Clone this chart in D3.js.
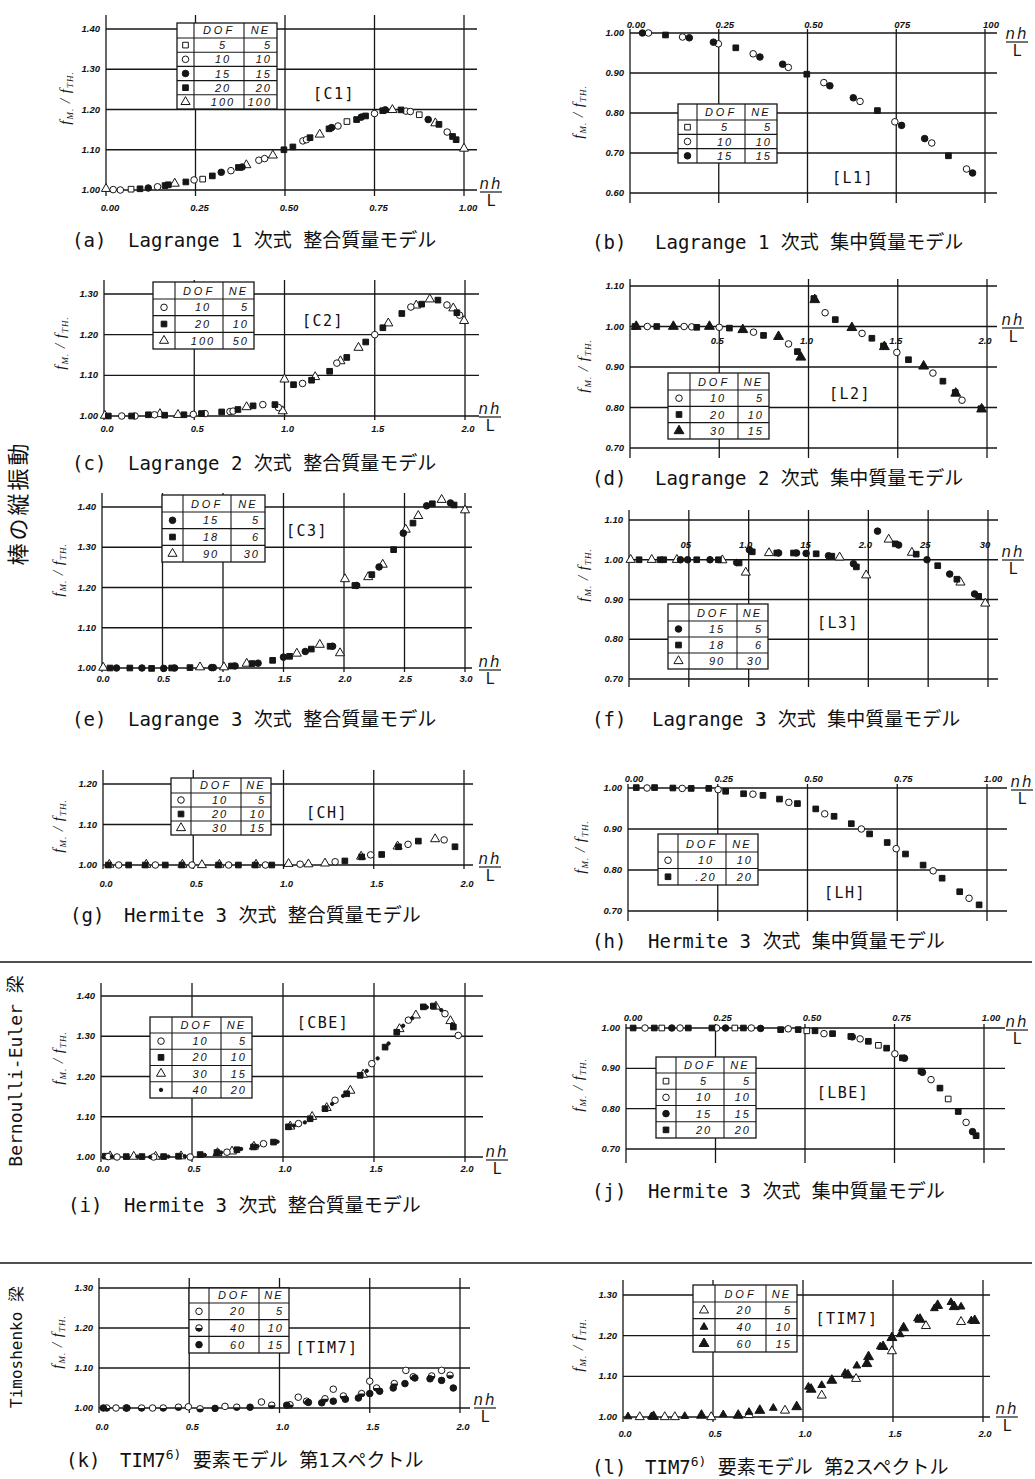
<!DOCTYPE html>
<html>
<head>
<meta charset="utf-8">
<script src="https://cdn.jsdelivr.net/npm/d3@7"></script>
<style>
body { margin: 0; background: #fff; }
svg { display: block; }
.tk { font-family: "Liberation Sans", Arial, sans-serif; font-style: italic; font-weight: bold; font-size: 9.5px; fill: #111; }
.lg { font-family: "Liberation Sans", Arial, sans-serif; font-style: italic; font-size: 11px; fill: #111; }
.cap { font-family: "DejaVu Sans Mono", "Noto Sans CJK JP", monospace; font-size: 19px; fill: #111; white-space: pre; }
.tag { font-family: "DejaVu Sans Mono", monospace; font-size: 15px; fill: #111; }
.side { font-family: "DejaVu Sans Mono", "Noto Sans CJK JP", monospace; fill: #111; white-space: pre; }
</style>
</head>
<body>
<svg id="fig" width="1035" height="1479"></svg>
<script>
// ---- (a) Lagrange 1 consistent mass [C1]
const a_xvals = [0, 0.25, 0.5, 0.75, 1];
const a_xlabels = ['0.00', '0.25', '0.50', '0.75', '1.00'];
const a_yvals = [1.0, 1.1, 1.2, 1.3, 1.4];
const a_legend = [['sq', '5', '5'], ['ci', '10', '10'], ['dot', '15', '15'], ['sqf', '20', '20'], ['tri', '100', '100']];
const a_sq = [[0.07,1.002],[0.27,1.027],[0.673,1.170],[0.875,1.187]];
const a_ci = [[0.02,1.001],[0.04,1.000],[0.144,1.008],[0.246,1.025],[0.349,1.048],[0.427,1.074],[0.443,1.078],[0.55,1.122],[0.56,1.125],[0.648,1.159],[0.75,1.190],[0.838,1.196],[0.85,1.195],[0.953,1.144]];
const a_dot = [[0.118,1.005],[0.322,1.044],[0.38,1.057],[0.63,1.155],[0.713,1.181],[0.78,1.199],[0.90,1.175]];
const a_sqf = [[0.095,1.003],[0.165,1.011],[0.174,1.013],[0.223,1.020],[0.297,1.035],[0.37,1.056],[0.497,1.100],[0.522,1.107],[0.57,1.130],[0.623,1.152],[0.70,1.175],[0.725,1.184],[0.773,1.197],[0.824,1.199],[0.93,1.163],[0.968,1.133],[0.978,1.125]];
const a_tri = [[0.0,1.003],[0.192,1.016],[0.392,1.062],[0.466,1.086],[0.597,1.138],[0.80,1.199],[0.92,1.166],[1.0,1.103]];

// ---- (b) Lagrange 1 lumped mass [L1]
const b_xvals = [0, 0.25, 0.5, 0.75, 1];
const b_xlabels = ['0.00', '0.25', '0.50', '075', '100'];
const b_yvals = [0.6, 0.7, 0.8, 0.9, 1.0];
const b_legend = [['sq', '5', '5'], ['ci', '10', '10'], ['dot', '15', '15']];
const b_sqf = [[0.10,0.995],[0.298,0.963],[0.498,0.897],[0.697,0.806],[0.897,0.693]];
const b_ci = [[0.052,1.000],[0.148,0.990],[0.249,0.973],[0.347,0.948],[0.446,0.914],[0.546,0.876],[0.648,0.829],[0.746,0.778],[0.85,0.725],[0.948,0.660]];
const b_dot = [[0.035,1.000],[0.167,0.988],[0.235,0.977],[0.366,0.940],[0.43,0.922],[0.563,0.868],[0.629,0.838],[0.765,0.769],[0.83,0.736],[0.965,0.650]];

// ---- (c) Lagrange 2 consistent mass [C2]
const c_xvals = [0, 0.5, 1.0, 1.5, 2.0];
const c_xlabels = ['0.0', '0.5', '1.0', '1.5', '2.0'];
const c_yvals = [1.0, 1.1, 1.2, 1.3];
const c_legend = [['ci', '10', '5'], ['sqf', '20', '10'], ['tri', '100', '50']];
const c_ci = [[0.098,1.000],[0.172,1.000],[0.28,1.003],[0.495,1.004],[0.56,1.006],[0.698,1.011],[0.715,1.012],[0.88,1.028],[0.966,1.021],[1.10,1.080],[1.29,1.130],[1.50,1.200],[1.70,1.268],[1.90,1.273],[1.97,1.248]];
const c_sqf = [[0.024,1.000],[0.153,1.000],[0.246,1.003],[0.336,1.002],[0.443,1.003],[0.54,1.006],[0.652,1.010],[0.742,1.016],[0.826,1.025],[0.947,1.028],[1.05,1.077],[1.15,1.088],[1.25,1.110],[1.345,1.144],[1.45,1.182],[1.545,1.217],[1.65,1.252],[1.76,1.275],[1.85,1.285],[1.955,1.254]];
const c_tri = [[0.005,1.001],[0.31,1.005],[0.41,1.003],[0.79,1.022],[0.99,1.012],[1.0,1.090],[1.17,1.096],[1.31,1.135],[1.41,1.168],[1.575,1.228],[1.73,1.272],[1.805,1.287],[1.935,1.265],[1.995,1.234]];

// ---- (d) Lagrange 2 lumped mass [L2]
const d_xvals = [0.5, 1.0, 1.5, 2.0];
const d_xlabels = ['0.5', '1.0', '1.5', '2.0'];
const d_yvals = [0.7, 0.8, 0.9, 1.0, 1.1];
const d_legend = [['ci', '10', '5'], ['sqf', '20', '10'], ['trif', '30', '15']];
const d_ci = [[0.097,1.000],[0.303,1.000],[0.346,0.999],[0.50,0.998],[0.692,0.986],[0.888,0.957],[1.093,1.034],[1.30,0.983],[1.495,0.936],[1.697,0.885],[1.86,0.818]];
const d_sqf = [[0.028,1.000],[0.15,1.000],[0.374,0.998],[0.557,0.996],[0.748,0.978],[0.938,0.938],[1.03,1.069],[1.15,1.017],[1.355,0.971],[1.42,0.952],[1.56,0.918],[1.753,0.865],[1.822,0.837],[1.966,0.797]];
const d_trif = [[0.035,1.000],[0.243,1.000],[0.445,1.000],[0.632,0.992],[0.832,0.975],[0.957,0.924],[1.035,1.066],[1.243,0.997],[1.425,0.950],[1.645,0.902],[1.825,0.835],[1.97,0.796]];

// ---- (e) Lagrange 3 consistent mass [C3]
const e_xvals = [0, 0.5, 1.0, 1.5, 2.0, 2.5, 3.0];
const e_xlabels = ['0.0', '0.5', '1.0', '1.5', '2.0', '2.5', '3.0'];
const e_yvals = [1.0, 1.1, 1.2, 1.3, 1.4];
const e_legend = [['dot', '15', '5'], ['sqf', '18', '6'], ['tri', '90', '30']];
const e_dot = [[0.12,1.000],[0.33,1.000],[0.51,0.999],[0.60,1.000],[0.906,1.001],[0.92,1.001],[1.10,1.005],[1.29,1.012],[1.50,1.027],[1.68,1.041],[1.906,1.054],[2.105,1.205],[2.29,1.251],[2.49,1.335],[2.683,1.403],[2.88,1.410]];
const e_sqf = [[0.066,1.000],[0.23,1.000],[0.41,0.999],[0.576,1.000],[0.727,1.001],[1.07,1.005],[1.24,1.011],[1.41,1.019],[1.55,1.029],[1.73,1.047],[1.885,1.054],[2.09,1.205],[2.23,1.232],[2.41,1.294],[2.57,1.360],[2.73,1.408],[2.91,1.405]];
const e_tri = [[0.01,1.001],[0.81,1.002],[1.008,1.002],[1.196,1.011],[1.61,1.036],[1.80,1.058],[1.967,1.037],[2.008,1.221],[2.20,1.226],[2.32,1.257],[2.51,1.344],[2.614,1.378],[2.807,1.418],[3.0,1.392]];

// ---- (f) Lagrange 3 lumped mass [L3]
const f_xvals = [0.5, 1.0, 1.5, 2.0, 2.5, 3.0];
const f_xlabels = ['05', '1.0', '15', '2.0', '25', '30'];
const f_yvals = [0.7, 0.8, 0.9, 1.0, 1.1];
const f_legend = [['dot', '15', '5'], ['sqf', '18', '6'], ['tri', '90', '30']];
const f_dot = [[0.43,1.000],[0.49,1.000],[0.677,1.000],[0.90,0.993],[1.006,1.025],[1.25,1.017],[1.40,1.017],[1.48,1.016],[1.667,1.010],[1.876,0.990],[2.077,1.072],[2.253,1.037],[2.49,1.000],[2.68,0.964],[2.888,0.914]];
const f_sqf = [[0.084,1.000],[0.26,1.000],[0.29,1.000],[0.566,1.000],[0.747,1.000],[0.92,0.992],[1.03,1.020],[1.235,1.017],[1.375,1.017],[1.564,1.015],[1.695,1.009],[1.90,0.982],[2.225,1.040],[2.40,1.014],[2.58,0.985],[2.74,0.951],[2.922,0.908]];
const f_tri = [[0.014,1.000],[0.19,1.000],[0.40,1.000],[0.78,0.999],[0.976,0.968],[1.17,1.017],[1.76,1.006],[1.982,0.961],[2.17,1.051],[2.364,1.018],[2.77,0.943],[2.977,0.890]];

// ---- (g) Hermite 3 consistent mass [CH]
const g_xvals = [0, 0.5, 1.0, 1.5, 2.0];
const g_xlabels = ['0.0', '0.5', '1.0', '1.5', '2.0'];
const g_yvals = [1.0, 1.1, 1.2];
const g_legend = [['ci', '10', '5'], ['sqf', '20', '10'], ['tri', '30', '15']];
const g_ci = [[0.087,1.000],[0.29,1.000],[0.493,1.000],[0.696,1.000],[0.90,1.000],[1.092,1.002],[1.286,1.008],[1.483,1.025],[1.69,1.051],[1.89,1.062]];
const g_sqf = [[0.03,1.000],[0.142,1.000],[0.234,1.000],[0.345,1.000],[0.437,1.000],[0.64,1.000],[0.75,1.000],[0.843,1.000],[0.935,1.000],[1.34,1.010],[1.433,1.020],[1.544,1.026],[1.637,1.045],[1.747,1.059],[1.95,1.045]];
const g_tri = [[0.035,1.001],[0.24,1.001],[0.44,1.001],[0.548,1.000],[0.645,1.001],[0.848,1.001],[1.028,1.003],[1.138,1.002],[1.23,1.004],[1.43,1.021],[1.632,1.046],[1.84,1.064]];

// ---- (h) Hermite 3 lumped mass [LH]
const h_xvals = [0, 0.25, 0.5, 0.75, 1];
const h_xlabels = ['0.00', '0.25', '0.50', '0.75', '1.00'];
const h_yvals = [0.7, 0.8, 0.9, 1.0];
const h_legend = [['ci', '10', '10'], ['sqf', '.20', '20']];
const h_ci = [[0.053,1.000],[0.151,0.999],[0.251,0.996],[0.348,0.985],[0.448,0.965],[0.548,0.937],[0.65,0.900],[0.747,0.852],[0.85,0.798],[0.95,0.731]];
const h_sqf = [[0.023,1.001],[0.074,1.001],[0.125,1.000],[0.176,0.999],[0.225,0.999],[0.272,0.992],[0.322,0.986],[0.376,0.982],[0.422,0.973],[0.472,0.962],[0.523,0.949],[0.574,0.931],[0.622,0.913],[0.673,0.888],[0.722,0.867],[0.773,0.839],[0.822,0.812],[0.875,0.780],[0.924,0.747],[0.978,0.715]];

// ---- (i) Hermite 3 consistent mass, Bernoulli-Euler [CBE]
const i_xvals = [0, 0.5, 1.0, 1.5, 2.0];
const i_xlabels = ['0.0', '0.5', '1.0', '1.5', '2.0'];
const i_yvals = [1.0, 1.1, 1.2, 1.3, 1.4];
const i_legend = [['ci', '10', '5'], ['sqf', '20', '10'], ['tri', '30', '15'], ['sdot', '40', '20']];
const i_ci = [[0.04,1.001],[0.088,1.000],[0.289,1.000],[0.49,1.000],[0.692,1.012],[0.893,1.033],[1.085,1.083],[1.286,1.141],[1.488,1.232],[1.689,1.340],[1.89,1.356],[1.963,1.302]];
const i_sqf = [[0.024,1.002],[0.139,1.001],[0.225,1.001],[0.344,1.001],[0.426,1.002],[0.545,1.006],[0.637,1.011],[0.747,1.018],[0.838,1.025],[0.948,1.037],[1.03,1.075],[1.149,1.095],[1.231,1.120],[1.35,1.157],[1.424,1.203],[1.561,1.273],[1.625,1.310],[1.771,1.373],[1.826,1.375],[1.936,1.323]];
const i_tri = [[0.05,1.002],[0.18,1.001],[0.30,1.001],[0.44,1.002],[0.64,1.010],[0.72,1.014],[0.84,1.026],[1.04,1.076],[1.16,1.100],[1.24,1.122],[1.37,1.165],[1.44,1.205],[1.64,1.318],[1.73,1.352],[1.84,1.374],[1.92,1.338]];
const i_sdot = [[0.06,1.001],[0.20,1.001],[0.27,1.000],[0.37,1.001],[0.46,1.002],[0.57,1.005],[0.66,1.011],[0.77,1.020],[0.86,1.027],[0.97,1.038],[1.06,1.078],[1.12,1.086],[1.27,1.132],[1.33,1.152],[1.46,1.214],[1.52,1.245],[1.58,1.282],[1.66,1.326],[1.71,1.345],[1.79,1.372],[1.87,1.365],[1.93,1.330]];

// ---- (j) Hermite 3 lumped mass, Bernoulli-Euler [LBE]
const j_xvals = [0, 0.25, 0.5, 0.75, 1];
const j_xlabels = ['0.00', '0.25', '0.50', '0.75', '1.00'];
const j_yvals = [0.7, 0.8, 0.9, 1.0];
const j_legend = [['sq', '5', '5'], ['ci', '10', '10'], ['dot', '15', '15'], ['sqf', '20', '20']];
const j_sq = [[0.10,1.000],[0.304,1.000],[0.505,0.993],[0.705,0.957],[0.90,0.824]];
const j_ci = [[0.053,1.000],[0.151,1.000],[0.253,1.000],[0.35,1.000],[0.453,0.998],[0.553,0.986],[0.654,0.973],[0.751,0.936],[0.852,0.872],[0.95,0.766]];
const j_dot = [[0.128,1.000],[0.278,1.000],[0.376,0.999],[0.632,0.978],[0.778,0.925],[0.828,0.890],[0.968,0.743]];
const j_sqf = [[0.02,1.000],[0.079,1.000],[0.174,1.000],[0.24,1.000],[0.328,1.000],[0.432,0.996],[0.481,0.996],[0.528,0.993],[0.577,0.986],[0.628,0.979],[0.677,0.967],[0.728,0.950],[0.772,0.926],[0.824,0.893],[0.877,0.851],[0.928,0.793],[0.978,0.733]];

// ---- (k) TIM7 first spectrum
const k_xvals = [0, 0.5, 1.0, 1.5, 2.0];
const k_xlabels = ['0.0', '0.5', '1.0', '1.5', '2.0'];
const k_yvals = [1.0, 1.1, 1.2, 1.3];
const k_legend = [['ci', '20', '5'], ['half', '40', '10'], ['dot', '60', '15']];
const k_ci = [[0.094,1.000],[0.297,1.000],[0.495,1.003],[0.698,1.004],[0.90,1.015],[1.104,1.027],[1.298,1.047],[1.50,1.067],[1.70,1.094],[1.898,1.094]];
const k_half = [[0.043,1.000],[0.15,1.000],[0.236,1.000],[0.356,1.000],[0.44,1.002],[0.56,0.998],[0.763,1.002],[0.957,1.007],[1.058,1.008],[1.15,1.017],[1.252,1.023],[1.354,1.030],[1.455,1.036],[1.538,1.050],[1.636,1.061],[1.741,1.078],[1.843,1.080],[1.945,1.082]];
const k_dot = [[0.024,1.000],[0.155,1.000],[0.643,0.999],[0.837,1.002],[1.04,1.007],[1.16,1.014],[1.234,1.013],[1.298,1.017],[1.365,1.022],[1.437,1.025],[1.50,1.036],[1.555,1.042],[1.63,1.050],[1.695,1.061],[1.75,1.075],[1.834,1.073],[1.898,1.069],[1.963,1.050]];

// ---- (l) TIM7 second spectrum
const l_xvals = [0, 0.5, 1.0, 1.5, 2.0];
const l_xlabels = ['0.0', '0.5', '1.0', '1.5', '2.0'];
const l_yvals = [1.0, 1.1, 1.2, 1.3];
const l_legend = [['tri', '20', '5'], ['trs', '40', '10'], ['trif', '60', '15']];
const l_tri = [[0.093,1.000],[0.232,1.000],[0.288,1.000],[0.49,1.000],[0.70,1.005],[0.90,1.016],[1.104,1.053],[1.295,1.094],[1.494,1.162],[1.683,1.224],[1.878,1.234]];
const l_trs = [[0.028,1.001],[0.158,1.001],[0.343,1.002],[0.557,1.006],[0.70,1.012],[0.835,1.022],[1.03,1.074],[1.104,1.078],[1.234,1.108],[1.299,1.126],[1.429,1.173],[1.54,1.203],[1.636,1.242],[1.73,1.267],[1.822,1.282],[1.878,1.271],[1.935,1.237]];
const l_trf = [[0.17,1.001],[0.436,1.004],[0.64,1.004],[0.76,1.016],[0.965,1.025],[1.045,1.068],[1.16,1.090],[1.25,1.103],[1.355,1.131],[1.364,1.148],[1.445,1.173],[1.494,1.195],[1.559,1.219],[1.65,1.240],[1.748,1.274],[1.84,1.271],[1.954,1.237]];

// layout of the twelve panels (pixels only)
const panels = [
  {xd: [0, 1], xr: [106, 464], yd: [1.0, 1.4], yr: [190, 29], xv: a_xvals, xl: a_xlabels, yv: a_yvals,
   vTop: 15, vBot: 196, hEnd: 477, labY: 211, labDx: 4, nh: [491, 192], title: [70, 98],
   legend: {x: 177, y: 23, w: 100, h: 86, cols: [17, 50, 33], head: 15, rows: a_legend},
   tag: ['[C1]', 334, 99], series: [['sq', a_sq], ['tri', a_tri], ['ci', a_ci], ['sqf', a_sqf], ['dot', a_dot]],
   cap: ['(a)', 72, 'Lagrange 1 次式 整合質量モデル', 128, 247]},
  {xd: [0, 1], xr: [630, 985], yd: [0.6, 1.0], yr: [193, 33], xv: b_xvals, xl: b_xlabels, yv: b_yvals,
   vTop: 29, vBot: 203, hEnd: 997, labY: 28, labDx: 6, nh: [1017, 42], title: [583, 112],
   legend: {x: 678, y: 104, w: 99, h: 59, cols: [19, 48, 32], head: 16, rows: b_legend},
   tag: ['[L1]', 853, 183], series: [['sqf', b_sqf], ['ci', b_ci], ['dot', b_dot]],
   cap: ['(b)', 592, 'Lagrange 1 次式 集中質量モデル', 655, 249]},
  {xd: [0, 2], xr: [104, 465], yd: [1.0, 1.3], yr: [416, 294], xv: c_xvals, xl: c_xlabels, yv: c_yvals,
   vTop: 280, vBot: 420, hEnd: 479, labY: 432, labDx: 3, nh: [490, 417], title: [65, 343],
   legend: {x: 153, y: 282, w: 101, h: 67, cols: [22, 48, 31], head: 17, rows: c_legend},
   tag: ['[C2]', 323, 326], series: [['tri', c_tri], ['ci', c_ci], ['sqf', c_sqf]],
   cap: ['(c)', 72, 'Lagrange 2 次式 整合質量モデル', 128, 470]},
  {xd: [0, 2], xr: [630, 987], yd: [0.7, 1.1], yr: [448, 286], xv: d_xvals, xl: d_xlabels, yv: d_yvals,
   vTop: 279, vBot: 458, hEnd: 997, labY: 344, labDx: -2, nh: [1013, 328], title: [588, 366],
   legend: {x: 668, y: 373, w: 101, h: 66, cols: [22, 48, 31], head: 17, rows: d_legend},
   tag: ['[L2]', 850, 399], series: [['ci', d_ci], ['sqf', d_sqf], ['trif', d_trif]],
   cap: ['(d)', 592, 'Lagrange 2 次式 集中質量モデル', 655, 485]},
  {xd: [0, 3], xr: [102, 465], yd: [1.0, 1.4], yr: [668, 507], xv: e_xvals, xl: e_xlabels, yv: e_yvals,
   vTop: 493, vBot: 672, hEnd: 472, labY: 682, labDx: 1, nh: [490, 670], title: [63, 570],
   legend: {x: 162, y: 495, w: 103, h: 67, cols: [21, 48, 34], head: 17, rows: e_legend},
   tag: ['[C3]', 307, 536], series: [['tri', e_tri], ['sqf', e_sqf], ['dot', e_dot]],
   cap: ['(e)', 72, 'Lagrange 3 次式 整合質量モデル', 128, 726]},
  {xd: [0, 3], xr: [629, 988], yd: [0.7, 1.1], yr: [679, 520], xv: f_xvals, xl: f_xlabels, yv: f_yvals,
   vTop: 510, vBot: 687, hEnd: 998, labY: 548, labDx: -3, nh: [1013, 560], title: [588, 575],
   legend: {x: 668, y: 604, w: 100, h: 65, cols: [21, 48, 31], head: 17, rows: f_legend},
   tag: ['[L3]', 838, 628], series: [['tri', f_tri], ['sqf', f_sqf], ['dot', f_dot]],
   cap: ['(f)', 592, 'Lagrange 3 次式 集中質量モデル', 652, 726]},
  {xd: [0, 2], xr: [103, 464], yd: [1.0, 1.2], yr: [865, 784], xv: g_xvals, xl: g_xlabels, yv: g_yvals,
   vTop: 770, vBot: 869, hEnd: 473, labY: 887, labDx: 3, nh: [490, 867], title: [63, 826],
   legend: {x: 171, y: 778, w: 100, h: 57, cols: [20, 50, 30], head: 15, rows: g_legend},
   tag: ['[CH]', 327, 818], series: [['tri', g_tri], ['sqf', g_sqf], ['ci', g_ci]],
   cap: ['(g)', 70, 'Hermite 3 次式 整合質量モデル', 124, 922]},
  {xd: [0, 1], xr: [628, 987], yd: [0.7, 1.0], yr: [911, 788], xv: h_xvals, xl: h_xlabels, yv: h_yvals,
   vTop: 784, vBot: 921, hEnd: 1007, labY: 782, labDx: 6, nh: [1022, 790], title: [585, 847],
   legend: {x: 658, y: 834, w: 100, h: 51, cols: [20, 48, 32], head: 18, rows: h_legend},
   tag: ['[LH]', 845, 898], series: [['sqf', h_sqf], ['ci', h_ci]],
   cap: ['(h)', 592, 'Hermite 3 次式 集中質量モデル', 648, 948]},
  {xd: [0, 2], xr: [101, 465], yd: [1.0, 1.4], yr: [1157, 996], xv: i_xvals, xl: i_xlabels, yv: i_yvals,
   vTop: 983, vBot: 1162, hEnd: 483, labY: 1172, labDx: 2, nh: [497, 1160], title: [63, 1058],
   legend: {x: 150, y: 1017, w: 102, h: 81, cols: [22, 49, 31], head: 16, rows: i_legend},
   tag: ['[CBE]', 323, 1028], series: [['tri', i_tri], ['sqf', i_sqf], ['ci', i_ci], ['sdot', i_sdot]],
   cap: ['(i)', 68, 'Hermite 3 次式 整合質量モデル', 124, 1212]},
  {xd: [0, 1], xr: [626, 984], yd: [0.7, 1.0], yr: [1149, 1028], xv: j_xvals, xl: j_xlabels, yv: j_yvals,
   vTop: 1024, vBot: 1163, hEnd: 1005, labY: 1021, labDx: 7, nh: [1017, 1030], title: [583, 1085],
   legend: {x: 656, y: 1057, w: 100, h: 81, cols: [20, 48, 32], head: 16, rows: j_legend},
   tag: ['[LBE]', 843, 1098], series: [['sq', j_sq], ['ci', j_ci], ['sqf', j_sqf], ['dot', j_dot]],
   cap: ['(j)', 592, 'Hermite 3 次式 集中質量モデル', 648, 1198]},
  {xd: [0, 2], xr: [99, 460], yd: [1.0, 1.3], yr: [1408, 1288], xv: k_xvals, xl: k_xlabels, yv: k_yvals,
   vTop: 1278, vBot: 1413, hEnd: 470, labY: 1430, labDx: 3, nh: [485, 1408], title: [62, 1342],
   legend: {x: 189, y: 1288, w: 100, h: 65, cols: [20, 50, 30], head: 15, rows: k_legend},
   tag: ['[TIM7]', 327, 1353], series: [['ci', k_ci], ['half', k_half], ['dot', k_dot]],
   cap: ['(k)', 66, 'TIM7', 120, 1467], capTail: '要素モデル 第1スペクトル'},
  {xd: [0, 2], xr: [623, 983], yd: [1.0, 1.3], yr: [1417, 1295], xv: l_xvals, xl: l_xlabels, yv: l_yvals,
   vTop: 1280, vBot: 1422, hEnd: 990, labY: 1437, labDx: 2, nh: [1007, 1417], title: [583, 1345],
   legend: {x: 693, y: 1285, w: 104, h: 67, cols: [22, 51, 31], head: 17, rows: l_legend},
   tag: ['[TIM7]', 847, 1324], series: [['tri', l_tri], ['trs', l_trs], ['trif', l_trf]],
   cap: ['(l)', 592, 'TIM7', 645, 1474], capTail: '要素モデル 第2スペクトル'}
];

const svg = d3.select('#fig');
const ink = '#161616';

const markerStyle = {
  sq:   {type: d3.symbolSquare, size: 32, fill: '#fff'},
  sqf:  {type: d3.symbolSquare, size: 32, fill: ink},
  ci:   {type: d3.symbolCircle, size: 34, fill: '#fff'},
  dot:  {type: d3.symbolCircle, size: 34, fill: ink},
  sdot: {type: d3.symbolCircle, size: 9, fill: ink},
  tri:  {type: d3.symbolTriangle, size: 36, fill: '#fff'},
  trif: {type: d3.symbolTriangle, size: 42, fill: ink},
  trs:  {type: d3.symbolTriangle, size: 26, fill: ink},
  half: {type: d3.symbolCircle, size: 34, fill: '#fff'}
};
const halfArc = d3.arc()({innerRadius: 0, outerRadius: 3.3, startAngle: Math.PI / 2, endAngle: 3 * Math.PI / 2});

function drawMarker(sel, kind, cx, cy) {
  const m = markerStyle[kind];
  const g = sel.append('g').attr('transform', `translate(${cx},${cy})`);
  g.append('path')
    .attr('d', d3.symbol().type(m.type).size(m.size)())
    .attr('fill', m.fill)
    .attr('stroke', ink)
    .attr('stroke-width', 1);
  if (kind === 'half') g.append('path').attr('d', halfArc).attr('fill', ink);
}

function drawPanel(p) {
  const g = svg.append('g');
  const x = d3.scaleLinear().domain(p.xd).range(p.xr);
  const y = d3.scaleLinear().domain(p.yd).range(p.yr);
  const vlines = Array.from(new Set([p.xd[0], ...p.xv]));

  // grid
  const grid = g.append('g').attr('stroke', ink).attr('stroke-width', 1.3);
  grid.selectAll('line.h').data(p.yv).join('line').attr('class', 'h')
    .attr('x1', p.xr[0]).attr('x2', p.hEnd)
    .attr('y1', d => y(d)).attr('y2', d => y(d));
  grid.selectAll('line.v').data(vlines).join('line').attr('class', 'v')
    .attr('x1', d => x(d)).attr('x2', d => x(d))
    .attr('y1', p.vTop).attr('y2', p.vBot);

  // tick labels
  g.selectAll('text.yl').data(p.yv).join('text').attr('class', 'tk')
    .attr('x', p.xr[0] - 6).attr('y', d => y(d) + 3)
    .attr('text-anchor', 'end').text(d3.format('.2f'));
  g.selectAll('text.xl').data(p.xv).join('text').attr('class', 'tk xl')
    .attr('x', d => x(d) + p.labDx).attr('y', p.labY)
    .attr('text-anchor', 'middle').text((d, i) => p.xl[i]);

  // markers
  p.series.forEach(([kind, pts]) => {
    const sg = g.append('g');
    pts.forEach(d => drawMarker(sg, kind, x(d[0]), y(d[1])));
  });

  // legend table
  const L = p.legend;
  const lg = g.append('g');
  const rowH = (L.h - L.head) / L.rows.length;
  const c1 = L.x + L.cols[0], c2 = c1 + L.cols[1];
  lg.append('rect').attr('x', L.x).attr('y', L.y).attr('width', L.w).attr('height', L.h)
    .attr('fill', '#fff').attr('stroke', ink).attr('stroke-width', 1.3);
  lg.selectAll('line.c').data([c1, c2]).join('line')
    .attr('x1', d => d).attr('x2', d => d).attr('y1', L.y).attr('y2', L.y + L.h)
    .attr('stroke', ink).attr('stroke-width', 1.1);
  lg.selectAll('line.r').data(d3.range(L.rows.length)).join('line')
    .attr('x1', L.x).attr('x2', L.x + L.w)
    .attr('y1', i => L.y + L.head + i * rowH).attr('y2', i => L.y + L.head + i * rowH)
    .attr('stroke', ink).attr('stroke-width', 1.1);
  lg.append('text').attr('class', 'lg').attr('x', c1 + L.cols[1] / 2).attr('y', L.y + L.head - 4)
    .attr('text-anchor', 'middle').attr('letter-spacing', 3).text('DOF');
  lg.append('text').attr('class', 'lg').attr('x', c2 + L.cols[2] / 2).attr('y', L.y + L.head - 4)
    .attr('text-anchor', 'middle').attr('letter-spacing', 2).text('NE');
  L.rows.forEach((r, i) => {
    const cy = L.y + L.head + (i + 0.5) * rowH;
    drawMarker(lg, r[0], L.x + L.cols[0] / 2, cy);
    lg.append('text').attr('class', 'lg').attr('x', c1 + L.cols[1] / 2 + 4).attr('y', cy + 4)
      .attr('text-anchor', 'middle').attr('letter-spacing', 2).text(r[1]);
    lg.append('text').attr('class', 'lg').attr('x', c2 + L.cols[2] - 5).attr('y', cy + 4)
      .attr('text-anchor', 'end').attr('letter-spacing', 2).text(r[2]);
  });

  // [tag]
  g.append('text').attr('class', 'tag').attr('x', p.tag[1]).attr('y', p.tag[2])
    .attr('text-anchor', 'middle').attr('letter-spacing', 1.5).text(p.tag[0]);

  // nh / L
  const nh = g.append('g').attr('font-family', 'DejaVu Sans, sans-serif').attr('font-size', 15).attr('fill', ink);
  nh.append('text').attr('x', p.nh[0]).attr('y', p.nh[1] - 3).attr('text-anchor', 'middle')
    .attr('letter-spacing', 2).attr('font-style', 'italic').text('nh');
  nh.append('line').attr('x1', p.nh[0] - 11).attr('x2', p.nh[0] + 11)
    .attr('y1', p.nh[1]).attr('y2', p.nh[1]).attr('stroke', ink).attr('stroke-width', 1.2);
  nh.append('text').attr('x', p.nh[0]).attr('y', p.nh[1] + 14).attr('text-anchor', 'middle').text('L');

  // y title  f_M / f_TH.
  const t = g.append('text').attr('transform', `translate(${p.title[0]},${p.title[1]}) rotate(-90)`)
    .attr('text-anchor', 'middle').attr('font-family', 'Liberation Serif, serif')
    .attr('font-style', 'italic').attr('font-size', 15).attr('fill', ink).attr('letter-spacing', 1);
  t.append('tspan').text('f');
  t.append('tspan').attr('font-size', 9).attr('dy', 3).text('M.');
  t.append('tspan').attr('dy', -3).text(' / f');
  t.append('tspan').attr('font-size', 9).attr('dy', 3).text('TH.');

  // caption
  g.append('text').attr('class', 'cap').attr('x', p.cap[1]).attr('y', p.cap[4]).text(p.cap[0]);
  const body = g.append('text').attr('class', 'cap').attr('x', p.cap[3]).attr('y', p.cap[4]);
  body.append('tspan').text(p.cap[2]);
  if (p.capTail) {
    body.append('tspan').attr('font-size', 13).attr('dy', -8).text('6)');
    body.append('tspan').attr('dy', 8).text(' ' + p.capTail);
  }
}

panels.forEach(drawPanel);

// section separators
svg.selectAll('line.sep').data([962, 1263]).join('line')
  .attr('x1', 0).attr('x2', 1032).attr('y1', d => d).attr('y2', d => d)
  .attr('stroke', ink).attr('stroke-width', 1.4);

// rotated section labels
const sides = [['棒の縦振動', 18, 503, 22, 3], ['Bernoulli-Euler 梁', 16, 1071, 18, 0], ['Timoshenko 梁', 16, 1347, 16, 0]];
svg.selectAll('text.side').data(sides).join('text').attr('class', 'side')
  .attr('transform', d => `translate(${d[1]},${d[2]}) rotate(-90)`)
  .attr('text-anchor', 'middle').attr('dy', '0.35em')
  .attr('font-size', d => d[3]).attr('letter-spacing', d => d[4])
  .text(d => d[0]);
</script>
</body>
</html>
